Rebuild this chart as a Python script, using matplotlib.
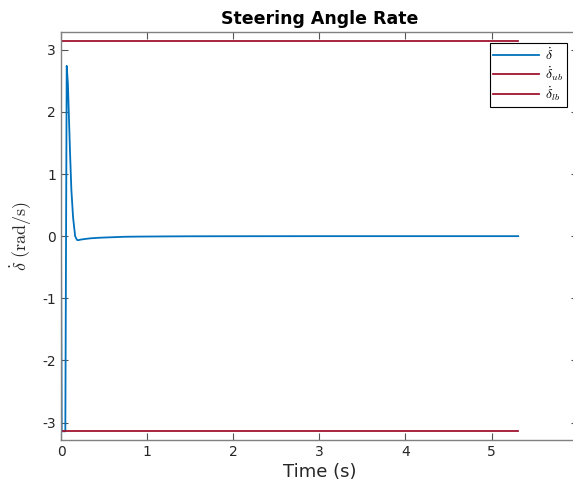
import matplotlib
matplotlib.use("Agg")
import matplotlib.pyplot as plt
import numpy as np

plt.rcParams['mathtext.fontset'] = 'cm'

# data
t = [0.0, 0.008, 0.05, 0.066, 0.08, 0.09, 0.105, 0.12, 0.14, 0.164, 0.185, 0.2, 0.23, 0.28, 0.34, 0.45, 0.6, 0.73, 0.9, 1.2, 1.5, 2.0, 3.0, 4.0, 5.31]
rate = [0.0, -3.14, -3.14, 2.74, 2.45, 2.0, 1.33, 0.75, 0.3, 0.0, -0.06, -0.065, -0.055, -0.045, -0.035, -0.025, -0.017, -0.01, -0.007, -0.004, -0.002, -0.001, 0.0, 0.0, 0.0]
t_bounds = [0.0, 5.31]
ub = [np.pi, np.pi]
lb = [-np.pi, -np.pi]
xticks = [0, 1, 2, 3, 4, 5]
yticks = [-3, -2, -1, 0, 1, 2, 3]

fig = plt.figure(figsize=(5.73, 4.92), dpi=100)
ax = fig.add_axes([0.1065, 0.1057, 0.9016, 0.8286])

ax.plot(t, rate, color='#0072BD', lw=1.3, label=r'$\dot{\delta}$')
ax.plot(t_bounds, ub, color='#A2142F', lw=1.3, label=r'$\dot{\delta}_{ub}$')
ax.plot(t_bounds, lb, color='#A2142F', lw=1.3, label=r'$\dot{\delta}_{lb}$')

ax.set_xlim(0, 6)
ax.set_ylim(-3.28, 3.28)
ax.set_xticks(xticks)
ax.set_yticks(yticks)
ax.set_xticklabels([str(v) for v in xticks])
ax.set_yticklabels([str(v) for v in yticks])
ax.tick_params(direction='in', length=5, colors='#555555', labelcolor='#262626', labelsize=10, top=True, right=True)
for s in ax.spines.values():
    s.set_color('#808080')
    s.set_linewidth(1.0)

ax.set_xlabel('Time (s)', fontsize=13, color='#262626', labelpad=3)
ax.set_ylabel(r'$\dot{\delta}\ \mathrm{(rad/s)}$', fontsize=13, color='#262626', labelpad=6)
ax.set_title('Steering Angle Rate', fontsize=12.5, fontweight='bold', pad=6)

leg = ax.legend(loc='upper right', bbox_to_anchor=(0.989, 0.912), bbox_transform=fig.transFigure,
                borderaxespad=0, fancybox=False, edgecolor='black',
                fontsize=10, handlelength=3.3, borderpad=0.25, labelspacing=0.12, handletextpad=0.4, framealpha=1)
leg.get_frame().set_linewidth(0.8)

fig.savefig('out.png', dpi=100)
